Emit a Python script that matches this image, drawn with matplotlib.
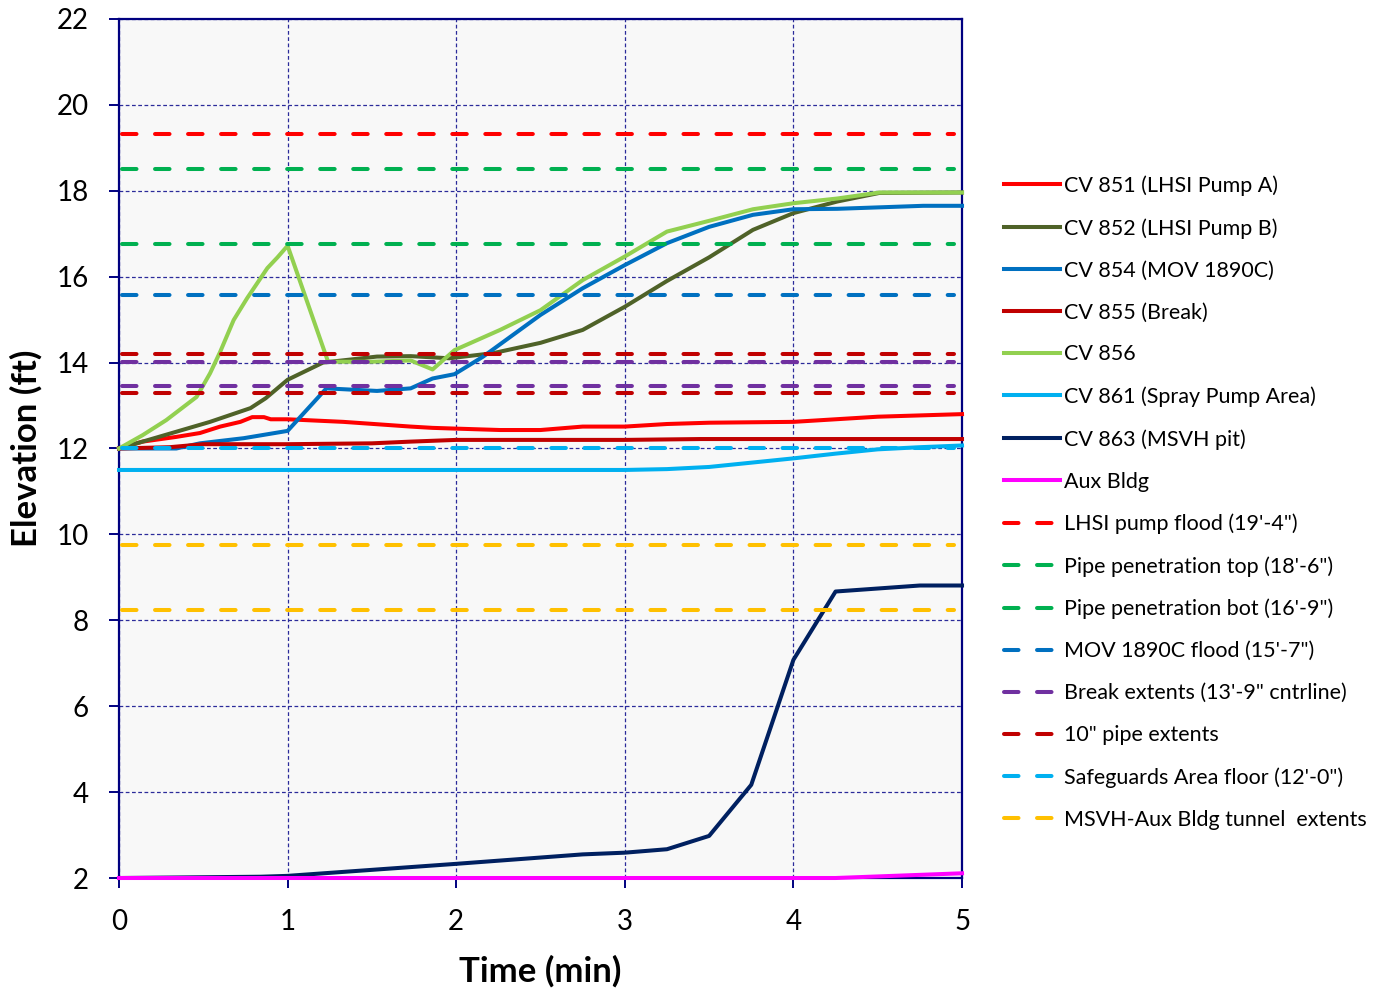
import numpy as np
import matplotlib.pyplot as plt

plt.rcParams['font.family'] = ['Lato', 'DejaVu Sans']

# ---- data (time in min, elevation in ft) ----
t_851 = [0, 0.14, 0.34, 0.48, 0.6, 0.72, 0.79, 0.86, 0.9, 1.0, 1.33, 1.73, 1.86, 2.26, 2.5, 2.75, 3.0, 3.25, 3.5, 4.0, 4.25, 4.5, 5.0]
y_851 = [12.0, 12.16, 12.27, 12.36, 12.51, 12.62, 12.73, 12.73, 12.68, 12.68, 12.62, 12.51, 12.48, 12.43, 12.43, 12.51, 12.51, 12.57, 12.6, 12.62, 12.68, 12.74, 12.8]

t_852 = [0, 0.14, 0.34, 0.54, 0.78, 0.87, 1.0, 1.21, 1.53, 1.73, 1.96, 2.22, 2.5, 2.75, 3.0, 3.25, 3.5, 3.76, 4.0, 4.26, 4.51, 5.0]
y_852 = [12.0, 12.16, 12.39, 12.62, 12.94, 13.17, 13.6, 14.0, 14.14, 14.15, 14.1, 14.22, 14.46, 14.76, 15.3, 15.9, 16.45, 17.09, 17.48, 17.75, 17.95, 17.96]

t_854 = [0, 0.34, 0.48, 0.74, 1.0, 1.23, 1.53, 1.73, 1.86, 1.99, 2.16, 2.5, 2.75, 3.0, 3.25, 3.5, 3.76, 4.0, 4.26, 4.77, 5.0]
y_854 = [12.0, 12.0, 12.12, 12.24, 12.41, 13.4, 13.34, 13.4, 13.63, 13.73, 14.14, 15.11, 15.73, 16.27, 16.78, 17.16, 17.44, 17.57, 17.58, 17.65, 17.65]

t_855 = [0, 0.3, 0.5, 1.0, 1.5, 1.73, 2.0, 3.0, 3.45, 5.0]
y_855 = [12.0, 12.03, 12.1, 12.1, 12.12, 12.16, 12.2, 12.2, 12.22, 12.22]

t_856 = [0, 0.14, 0.28, 0.46, 0.54, 0.6, 0.68, 0.76, 0.82, 0.88, 0.94, 1.0, 1.24, 1.5, 1.73, 1.86, 1.99, 2.26, 2.5, 2.75, 3.0, 3.25, 3.5, 3.76, 4.0, 4.26, 4.51, 5.0]
y_856 = [12.0, 12.31, 12.66, 13.2, 13.75, 14.25, 14.99, 15.5, 15.85, 16.2, 16.45, 16.72, 14.02, 14.02, 14.05, 13.84, 14.29, 14.76, 15.22, 15.92, 16.47, 17.05, 17.3, 17.57, 17.71, 17.82, 17.96, 17.96]

t_861 = [0, 3.0, 3.25, 3.5, 3.75, 4.0, 4.25, 4.5, 4.75, 5.0]
y_861 = [11.5, 11.5, 11.52, 11.57, 11.67, 11.77, 11.88, 11.98, 12.03, 12.07]

t_863 = [0, 0.84, 1.0, 1.25, 2.0, 2.75, 3.0, 3.25, 3.5, 3.75, 4.0, 4.25, 4.75, 5.0]
y_863 = [2.0, 2.03, 2.05, 2.12, 2.33, 2.55, 2.59, 2.67, 2.98, 4.17, 7.08, 8.67, 8.81, 8.81]

t_aux = [0, 4.25, 5.0]
y_aux = [2.0, 2.0, 2.11]

series = [
    ('CV 851 (LHSI Pump A)', t_851, y_851, '#FF0000'),
    ('CV 852 (LHSI Pump B)', t_852, y_852, '#4F6228'),
    ('CV 854 (MOV 1890C)', t_854, y_854, '#0070C0'),
    ('CV 855 (Break)', t_855, y_855, '#C00000'),
    ('CV 856', t_856, y_856, '#92D050'),
    ('CV 861 (Spray Pump Area)', t_861, y_861, '#00B0F0'),
    ('CV 863 (MSVH pit)', t_863, y_863, '#002060'),
    ('Aux Bldg', t_aux, y_aux, '#FF00FF'),
]

# reference elevations (ft)
ref_names = ['LHSI pump flood (19\'-4")', 'Pipe penetration top (18\'-6")',
             'Pipe penetration bot (16\'-9")', 'MOV 1890C flood (15\'-7")',
             'Break extents (13\'-9" cntrline)', '10" pipe extents',
             'Safeguards Area floor (12\'-0")', 'MSVH-Aux Bldg tunnel  extents']
ref_levels = [[19.333], [18.5], [16.75], [15.583], [14.02, 13.46], [14.21, 13.30], [12.0], [9.75, 8.25]]
ref_colors = ['#FF0000', '#00B050', '#00B050', '#0070C0', '#7030A0', '#C00000', '#00B0F0', '#FFC000']

fig = plt.figure(figsize=(13.87, 9.93), dpi=100)
ax = fig.add_axes([0.0858, 0.1158, 0.6078, 0.8651])
ax.set_facecolor('#F8F8F8')

handles = []
for name, t, y, c in series:
    h, = ax.plot(t, y, color=c, lw=2.9, label=name, clip_on=False, zorder=3)
    handles.append(h)

dash = (0, (3.6, 4.6))
for name, levels, c in zip(ref_names, ref_levels, ref_colors):
    for k, v in enumerate(levels):
        h, = ax.plot([0.02, 4.95], [v, v], color=c, lw=2.9, linestyle=dash,
                     dash_capstyle='round', zorder=4)
        if k == 0:
            h.set_label(name)
            handles.append(h)

ax.set_xlim(0, 5)
ax.set_ylim(2, 22)
ax.set_xticks(np.arange(0, 6, 1))
ax.set_yticks(np.arange(2, 23, 2))
ax.grid(True, color='#2B2B9A', lw=0.9, linestyle=(0, (3, 2)), zorder=1)
for s in ax.spines.values():
    s.set_color('#000080')
    s.set_linewidth(1.6)
ax.tick_params(axis='both', direction='out', length=7, width=1.4, color='#000080',
               labelsize=20, pad=15)

ax.set_xlabel('Time (min)', fontsize=25, fontweight='bold', labelpad=15)
ax.set_ylabel('Elevation (ft)', fontsize=25, fontweight='bold', labelpad=10)

leg = fig.legend(handles=handles, loc='upper left', bbox_to_anchor=(0.7175, 0.832),
                 frameon=False, fontsize=15.5, handlelength=2.6, handletextpad=0.2,
                 labelspacing=1.02, borderaxespad=0)

fig.savefig('out.png', dpi=100)
